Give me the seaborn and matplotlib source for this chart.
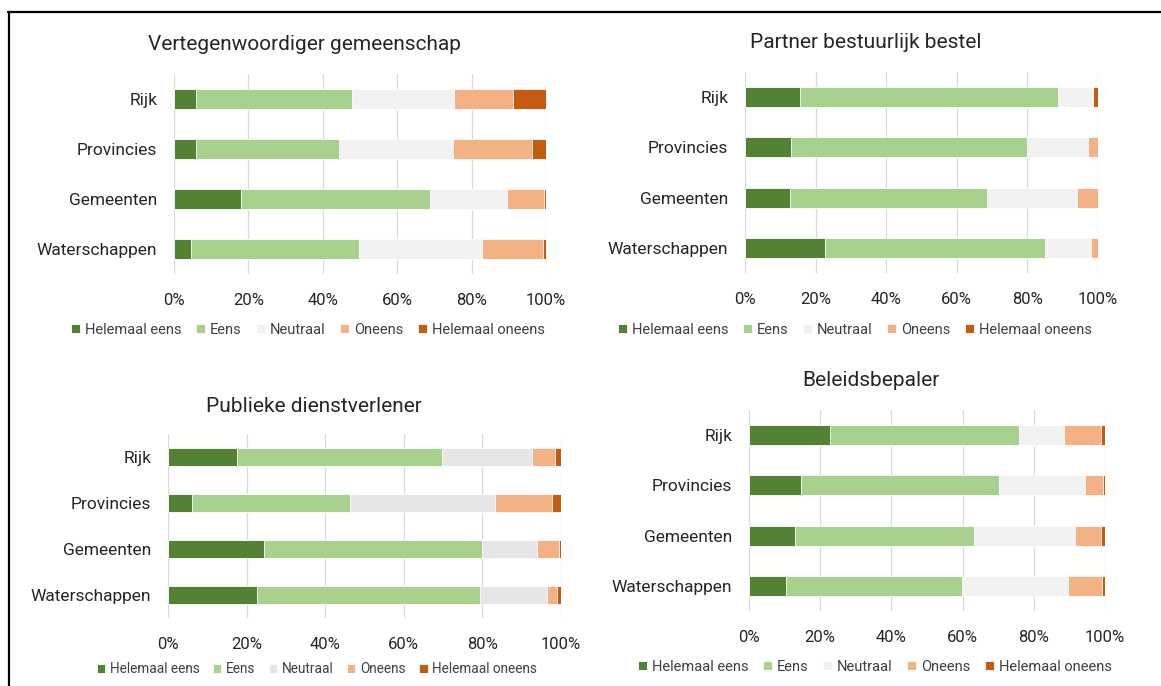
import matplotlib
matplotlib.use('Agg')
import matplotlib.pyplot as plt
import seaborn as sns
import numpy as np
import pandas as pd
from matplotlib.lines import Line2D

# Categories and answer options
categories = ['Rijk', 'Provincies', 'Gemeenten', 'Waterschappen']
answers = ['Helemaal eens', 'Eens', 'Neutraal', 'Oneens', 'Helemaal oneens']

# Shares (%) per category, one list per answer option
# Vertegenwoordiger gemeenschap
p1_helemaal_eens = [6.0, 6.0, 17.9, 4.7]
p1_eens = [41.8, 38.3, 51.0, 44.9]
p1_neutraal = [27.5, 30.6, 20.5, 33.3]
p1_oneens = [15.9, 21.4, 10.1, 16.2]
p1_helemaal_oneens = [8.8, 3.7, 0.5, 0.9]

# Partner bestuurlijk bestel
p2_helemaal_eens = [15.6, 13.0, 12.8, 22.6]
p2_eens = [73.0, 67.0, 55.8, 62.3]
p2_neutraal = [9.9, 17.1, 25.5, 13.2]
p2_oneens = [0.0, 2.9, 5.9, 1.9]
p2_helemaal_oneens = [1.5, 0.0, 0.0, 0.0]

# Publieke dienstverlener
p3_helemaal_eens = [17.5, 6.0, 24.4, 22.7]
p3_eens = [52.2, 40.3, 55.4, 56.6]
p3_neutraal = [22.9, 36.8, 14.2, 17.1]
p3_oneens = [5.9, 14.6, 5.5, 2.7]
p3_helemaal_oneens = [1.5, 2.3, 0.5, 0.9]

# Beleidsbepaler
p4_helemaal_eens = [22.7, 14.5, 12.9, 10.3]
p4_eens = [53.1, 55.6, 50.4, 49.4]
p4_neutraal = [12.8, 24.2, 28.3, 30.0]
p4_oneens = [10.2, 5.2, 7.2, 9.5]
p4_helemaal_oneens = [1.2, 0.5, 1.2, 0.8]

titles = ['Vertegenwoordiger gemeenschap', 'Partner bestuurlijk bestel',
          'Publieke dienstverlener', 'Beleidsbepaler']
tick_labels = ['0%', '20%', '40%', '60%', '80%', '100%']

W, H = 1161, 686
sns.set_style('white')
plt.rcParams['font.family'] = ['Roboto', 'DejaVu Sans']

fig = plt.figure(figsize=(W / 100, H / 100), dpi=100)

def px_axes(x0, y0, x1, y1):
    return fig.add_axes([x0 / W, 1 - y1 / H, (x1 - x0) / W, (y1 - y0) / H])

# panel layout in pixels: axes box, title pos, legend pos, neutral colour, legend size
panels = [
    dict(data=[p1_helemaal_eens, p1_eens, p1_neutraal, p1_oneens, p1_helemaal_oneens],
         box=(174, 74, 546, 274), title=(305, 44), legend=(308, 330), neutral='#F2F2F2', lsize=10.5),
    dict(data=[p2_helemaal_eens, p2_eens, p2_neutraal, p2_oneens, p2_helemaal_oneens],
         box=(745, 72, 1098, 273), title=(866, 42), legend=(855, 330), neutral='#F2F2F2', lsize=10.5),
    dict(data=[p3_helemaal_eens, p3_eens, p3_neutraal, p3_oneens, p3_helemaal_oneens],
         box=(168, 434, 561, 618), title=(314, 406), legend=(317, 669), neutral='#E6E6E6', lsize=9.8),
    dict(data=[p4_helemaal_eens, p4_eens, p4_neutraal, p4_oneens, p4_helemaal_oneens],
         box=(749, 410, 1105, 611), title=(871, 380), legend=(875, 667), neutral='#F2F2F2', lsize=10.5),
]

for title, p in zip(titles, panels):
    colors = ['#548235', '#A9D18E', p['neutral'], '#F4B183', '#C55A11']
    ax = px_axes(*p['box'])
    df = pd.DataFrame(np.array(p['data']).T, columns=answers)
    df['categorie'] = categories
    cum = df[answers].cumsum(axis=1)
    # draw from the longest cumulative bar to the shortest so they stack
    for i in range(len(answers) - 1, -1, -1):
        sns.barplot(x=cum[answers[i]], y=df['categorie'], color=colors[i],
                    orient='h', width=0.4, ax=ax, label=answers[i],
                    edgecolor='white', linewidth=0.6, saturation=1)
    ax.set_xlim(0, 100)
    ax.set_xticks([0, 20, 40, 60, 80, 100])
    ax.set_xticklabels(tick_labels)
    ax.set_xlabel('')
    ax.set_ylabel('')
    for s in ax.spines.values():
        s.set_visible(False)
    ax.grid(axis='x', color='#D9D9D9', linewidth=0.9)
    ax.set_axisbelow(True)
    ax.tick_params(axis='x', length=0, pad=14, labelsize=12, labelcolor='#262626')
    ax.tick_params(axis='y', length=0, pad=12, labelsize=12.5, labelcolor='#262626')

    fig.text(p['title'][0] / W, 1 - p['title'][1] / H, title, ha='center', va='center',
             fontsize=15, color='#262626')

    handles, labels = ax.get_legend_handles_labels()
    if ax.get_legend() is not None:
        ax.get_legend().remove()
    fig.legend(handles[::-1], labels[::-1], loc='center',
               bbox_to_anchor=(p['legend'][0] / W, 1 - p['legend'][1] / H),
               ncol=5, frameon=False, handlelength=0.6, handleheight=0.6,
               handletextpad=0.35, columnspacing=1.0,
               prop={'size': p['lsize']}, labelcolor='#404040')

# frame lines of the cropped figure
fig.add_artist(Line2D([8 / W, 1], [1 - 12 / H, 1 - 12 / H], color='black', linewidth=1.6))
fig.add_artist(Line2D([9 / W, 9 / W], [0, 1 - 12 / H], color='black', linewidth=1.6))

fig.savefig('out.png', dpi=100)
